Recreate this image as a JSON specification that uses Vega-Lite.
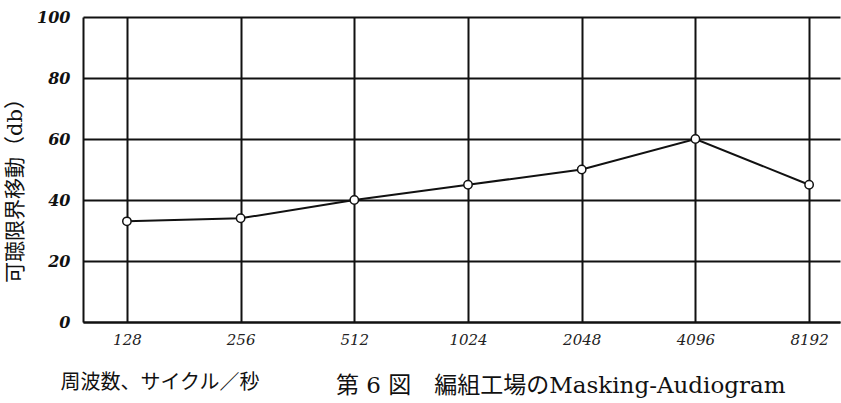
{
  "$schema": "https://vega.github.io/schema/vega-lite/v6.json",
  "width": 757,
  "height": 305,
  "autosize": {"type": "none"},
  "padding": {"left": 83, "top": 17, "right": 1, "bottom": 81},
  "background": "white",
  "config": {
    "view": {"stroke": null},
    "font": "DejaVu Serif, Noto Sans CJK JP"
  },
  "title": {
    "text": "第 6 図　編組工場のMasking-Audiogram",
    "orient": "bottom",
    "anchor": "start",
    "frame": "group",
    "dx": 253,
    "dy": -21,
    "fontSize": 23,
    "fontWeight": "normal",
    "font": "DejaVu Serif, Noto Sans CJK JP",
    "color": "#111"
  },
  "data": {
    "values": [
      {"freq": "128", "shift": 33},
      {"freq": "256", "shift": 34},
      {"freq": "512", "shift": 40},
      {"freq": "1024", "shift": 45},
      {"freq": "2048", "shift": 50},
      {"freq": "4096", "shift": 60},
      {"freq": "8192", "shift": 45}
    ]
  },
  "encoding": {
    "x": {
      "field": "freq",
      "type": "ordinal",
      "sort": null,
      "scale": {"type": "point", "padding": 0.329, "align": 0.587},
      "axis": {
        "title": "周波数、サイクル／秒",
        "titleFont": "DejaVu Serif, Noto Sans CJK JP",
        "titleFontSize": 20,
        "titleFontWeight": "normal",
        "titleColor": "#111",
        "titleAlign": "left",
        "titleAnchor": "start",
        "titleBaseline": "middle",
        "titleX": -23,
        "titleY": 60,
        "labelAngle": 0,
        "labelFontSize": 15,
        "labelFontStyle": "italic",
        "labelColor": "#222",
        "labelPadding": 10,
        "ticks": false,
        "domain": true,
        "domainColor": "#111",
        "domainWidth": 2,
        "grid": true,
        "gridColor": "#111",
        "gridWidth": 2,
        "gridOpacity": 1
      }
    },
    "y": {
      "field": "shift",
      "type": "quantitative",
      "scale": {"domain": [0, 100], "nice": false},
      "axis": {
        "title": "可聴限界移動（db）",
        "titleFont": "DejaVu Serif, Noto Sans CJK JP",
        "titleFontSize": 21,
        "titleFontWeight": "normal",
        "titleColor": "#111",
        "titleAngle": -90,
        "titleAlign": "center",
        "titleBaseline": "middle",
        "titleX": -68,
        "titleY": 168,
        "values": [0, 20, 40, 60, 80, 100],
        "labelFontSize": 16,
        "labelFontStyle": "italic",
        "labelFontWeight": "bold",
        "labelColor": "#111",
        "labelPadding": 13,
        "ticks": false,
        "domain": true,
        "domainColor": "#111",
        "domainWidth": 2,
        "grid": true,
        "gridColor": "#111",
        "gridWidth": 2,
        "gridOpacity": 1
      }
    }
  },
  "layer": [
    {
      "mark": {"type": "line", "color": "#111", "strokeWidth": 2}
    },
    {
      "mark": {"type": "point", "shape": "circle", "filled": true, "fill": "white", "stroke": "#111", "strokeWidth": 1.5, "size": 70, "opacity": 1}
    }
  ]
}
